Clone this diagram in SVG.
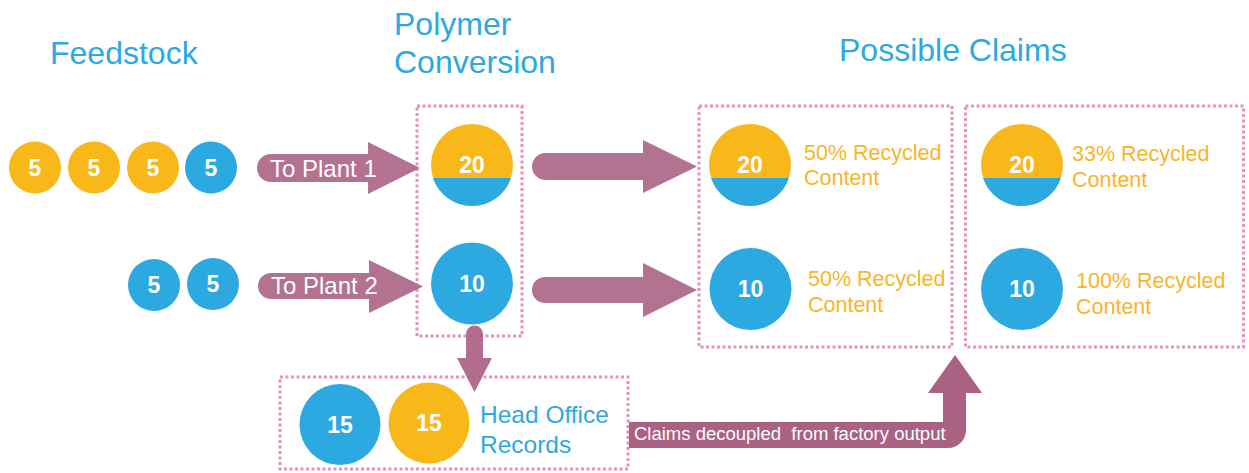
<svg xmlns="http://www.w3.org/2000/svg" xmlns:xlink="http://www.w3.org/1999/xlink" width="1249" height="473" viewBox="0 0 1249 473">
  <style>
    .title { font-family: "Liberation Sans", Arial, sans-serif; font-size: 32px; fill: #2DA9E1; }
    .num { font-family: "Liberation Sans", Arial, sans-serif; font-size: 23px; font-weight: bold; fill: #FFFFFF; text-anchor: middle; }
    .claim { font-family: "Liberation Sans", Arial, sans-serif; font-size: 21.5px; fill: #F7B52A; }
    .note { font-family: "Liberation Sans", Arial, sans-serif; font-size: 24.5px; fill: #2DA9E1; }
    .arrow-label { font-family: "Liberation Sans", Arial, sans-serif; font-size: 24px; fill: #FFFFFF; }
    .blue { fill: #2DA9E1; }
    .yellow { fill: #F9B81A; }
    .frame { fill: none; stroke: #E592C0; stroke-width: 3; stroke-dasharray: 3 2.5; }
    .flow { fill: #B3728F; }
  </style>
  <defs>
    <!-- mixed batch: yellow top, blue lower segment -->
    <g id="mixed">
      <circle cx="0" cy="0" r="41" fill="#F9B81A"/>
      <path d="M -38.9 13 A 41 41 0 0 0 38.9 13 Z" fill="#2DA9E1"/>
    </g>
  </defs>

  <rect width="1249" height="473" fill="#FFFFFF"/>

  <!-- column headings -->
  <g id="headings">
    <text class="title" x="50" y="64">Feedstock</text>
    <text class="title" x="394" y="35">Polymer</text>
    <text class="title" x="394" y="73">Conversion</text>
    <text class="title" x="839" y="61">Possible Claims</text>
  </g>

  <!-- dotted frames -->
  <g id="frames">
    <rect id="frame-polymer" class="frame" x="417" y="106" width="105" height="230"/>
    <rect id="frame-claims-a" class="frame" x="699" y="106" width="253" height="241"/>
    <rect id="frame-claims-b" class="frame" x="965.5" y="106" width="278" height="241"/>
    <rect id="frame-office" class="frame" x="280" y="377" width="348" height="92"/>
  </g>

  <!-- connectors -->
  <g id="connectors">
    <g id="to-plant-1">
      <path class="flow" d="M 271 154 H 368 V 142 L 420 168 L 368 194 V 182 H 271 A 14 14 0 0 1 271 154 Z"/>
      <text class="arrow-label" x="270" y="177">To Plant 1</text>
    </g>
    <g id="to-plant-2">
      <path class="flow" d="M 271 273 H 369 V 260 L 423 286.5 L 369 313 V 299 H 271 A 13 13 0 0 1 271 273 Z"/>
      <text class="arrow-label" x="271" y="294">To Plant 2</text>
    </g>
    <path id="plant-1-claims" class="flow" d="M 545.5 153 H 643 V 140 L 697 166.5 L 643 193 V 180 H 545.5 A 13.5 13.5 0 0 1 545.5 153 Z"/>
    <path id="plant-2-claims" class="flow" d="M 545 277 H 643 V 263 L 697 290 L 643 317 V 303 H 545 A 13 13 0 0 1 545 277 Z"/>
    <path id="plant-2-office" d="M 466 334 A 8.5 8.5 0 0 1 483 334 V 358 H 492 L 474.5 392 L 457 358 H 466 Z" fill="#A85A80" fill-opacity="0.88"/>
    <g id="office-claims">
      <path d="M 629 422 H 943 V 393 H 928 L 955 355 L 982 393 H 966 V 430 A 18 18 0 0 1 948 448 H 629 Z" fill="#AA6282"/>
      <text class="arrow-label" x="634" y="440" style="font-size:18.5px" xml:space="preserve">Claims decoupled  from factory output</text>
    </g>
  </g>

  <!-- feedstock lots -->
  <g id="feedstock-1">
    <circle class="yellow" cx="35" cy="167.5" r="26"/>
    <text class="num" x="35" y="175.5">5</text>
  </g>
  <g id="feedstock-2">
    <circle class="yellow" cx="94" cy="167.5" r="26"/>
    <text class="num" x="94" y="175.5">5</text>
  </g>
  <g id="feedstock-3">
    <circle class="yellow" cx="153" cy="167.5" r="26"/>
    <text class="num" x="153" y="175.5">5</text>
  </g>
  <g id="feedstock-4">
    <circle class="blue" cx="211" cy="167.5" r="26"/>
    <text class="num" x="211" y="175.5">5</text>
  </g>
  <g id="feedstock-5">
    <circle class="blue" cx="154" cy="285" r="26"/>
    <text class="num" x="154" y="293">5</text>
  </g>
  <g id="feedstock-6">
    <circle class="blue" cx="213" cy="284" r="26"/>
    <text class="num" x="213" y="292">5</text>
  </g>

  <!-- polymer plants -->
  <g id="plant-1">
    <use xlink:href="#mixed" x="472" y="165"/>
    <text class="num" x="472" y="173">20</text>
  </g>
  <g id="plant-2">
    <circle class="blue" cx="472" cy="283.5" r="41"/>
    <text class="num" x="472" y="291.5">10</text>
  </g>

  <!-- claims: mass balance per plant -->
  <g id="claim-a1">
    <use xlink:href="#mixed" x="750" y="165"/>
    <text class="num" x="750" y="173">20</text>
    <text class="claim" x="804" y="160">50% Recycled</text>
    <text class="claim" x="804" y="185">Content</text>
  </g>
  <g id="claim-a2">
    <circle class="blue" cx="750.5" cy="289" r="41"/>
    <text class="num" x="750.5" y="297">10</text>
    <text class="claim" x="808" y="286">50% Recycled</text>
    <text class="claim" x="808" y="311.5">Content</text>
  </g>

  <!-- claims: allocated via head office -->
  <g id="claim-b1">
    <use xlink:href="#mixed" x="1022" y="165"/>
    <text class="num" x="1022" y="173">20</text>
    <text class="claim" x="1072" y="161">33% Recycled</text>
    <text class="claim" x="1072" y="186.5">Content</text>
  </g>
  <g id="claim-b2">
    <circle class="blue" cx="1022" cy="289" r="41"/>
    <text class="num" x="1022" y="297">10</text>
    <text class="claim" x="1076" y="288">100% Recycled</text>
    <text class="claim" x="1076" y="314">Content</text>
  </g>

  <!-- head office records -->
  <g id="office-blue">
    <circle class="blue" cx="340" cy="424.5" r="40.5"/>
    <text class="num" x="340" y="432.5">15</text>
  </g>
  <g id="office-yellow">
    <circle class="yellow" cx="429" cy="423" r="40.5"/>
    <text class="num" x="429" y="431">15</text>
  </g>
  <g id="office-label">
    <text class="note" x="480" y="422.5">Head Office</text>
    <text class="note" x="480" y="452.5">Records</text>
  </g>
</svg>
